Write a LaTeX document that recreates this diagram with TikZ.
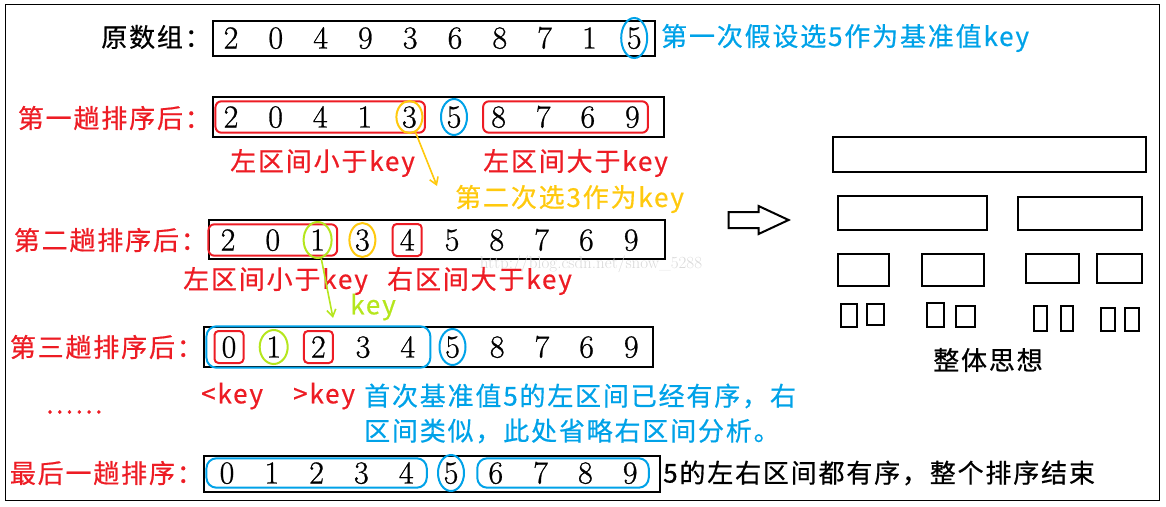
\documentclass[tikz,border=0pt]{standalone}
\usepackage{fontspec}
\usetikzlibrary{
  positioning,
  arrows.meta,
  fit,
  shapes.geometric,
  shapes.arrows
}
\newfontfamily\cjk[LetterSpace=7, FakeBold=0.6]{Noto Sans CJK SC}
\newfontfamily\digitfont[FakeBold=0.8]{Latin Modern Roman}
\definecolor{pred}{HTML}{ED1C24}
\definecolor{pblue}{HTML}{00A2E8}
\definecolor{pgold}{HTML}{FFC90E}
\definecolor{plime}{HTML}{B5E61D}

\begin{document}
\begin{tikzpicture}[
  x=1pt, y=-1pt,
  num/.style={font=\digitfont\fontsize{32}{32}\selectfont, inner sep=0pt,
              text height=21pt, text depth=0pt},
  numbox/.style={draw, line width=2.5pt},
  txt/.style={font=\cjk\fontsize{26}{30}\selectfont, inner sep=0pt},
  lbl/.style={txt, anchor=east},
  note/.style={txt, anchor=west},
  grp/.style={draw, line width=2pt, rounded corners=6pt, inner xsep=8pt, inner ysep=5pt},
  ring/.style={draw, ellipse, line width=2pt, inner sep=0pt,
               minimum width=26pt, minimum height=36pt},
  sq/.style={draw=pred, line width=2pt, rounded corners=4pt, inner sep=0pt,
             minimum width=29pt, minimum height=32pt},
  part/.style={draw, line width=2.5pt}
]
  \useasboundingbox (0,0) rectangle (1166,506);
  \draw[line width=0.8pt] (5,4) rectangle (1159,500);

  % Original array
  \node[lbl] (lab1) at (211,37) {原数组：};
  \draw[numbox] (213,21) rectangle (655,56);
  \foreach \d [count=\i] in {2,0,4,9,3,6,8,7,1,5}
    \node[num] (a\i) at ({231+44.8*(\i-1)},38) {\d};
  \node[ring, draw=pblue, minimum height=40pt] (k1) at (a10) {};
  \node[note, pblue] (note1) at (661,38) {第一次假设选5作为基准值key};

  % First pass
  \node[lbl, pred] (lab2) at (211,118) {第一趟排序后：};
  \draw[numbox] (213,97) rectangle (664,137);
  \foreach \d [count=\i] in {2,0,4,1,3,5,8,7,6,9}
    \node[num] (b\i) at ({231+44.6*(\i-1)},117) {\d};
  \node[grp, draw=pred, fit=(b1)(b5)] (low2) {};
  \node[grp, draw=pred, fit=(b7)(b10)] (high2) {};
  \node[ring, draw=pgold, minimum height=32pt] (k2) at (b5) {};
  \node[ring, draw=pblue] (p2) at (b6) {};
  \node[note, pred] (less2) at (230,163) {左区间小于key};
  \node[note, pred] (more2) at (483,163) {左区间大于key};
  \node[note, pgold] (pick2) at (455,199) {第二次选3作为key};
  \coordinate (tip2) at (437,186);
  \draw[pgold, line width=1.6pt, -{Straight Barb[length=7pt, width=9pt]}] (k2) -- (tip2);

  % Second pass
  \node[lbl, pred] (lab3) at (207,240) {第二趟排序后：};
  \draw[numbox] (209,220) rectangle (665,259);
  \foreach \d [count=\i] in {2,0,1,3,4,5,8,7,6,9}
    \node[num] (c\i) at ({228+44.8*(\i-1)},240) {\d};
  \node[grp, draw=pred, fit=(c1)(c3), inner xsep=12pt] (low3) {};
  \node[ring, draw=plime, minimum width=28pt] (k3) at (c3) {};
  \node[ring, draw=pgold, minimum height=34pt] (p3) at (c4) {};
  \node[sq] (hi3) at (c5) {};
  \node[font=\rmfamily\fontsize{17}{17}\selectfont, gray!30, anchor=north] (mark) at (591,252)
    {http://blog.csdn.net/snow\_5288};
  \node[note, pred] (less3) at (183,281) {左区间小于key};
  \node[note, pred] (more3) at (387,281) {右区间大于key};
  \node[note, plime] (key3) at (350,307) {key};
  \coordinate (tip3) at (333,318);
  \draw[plime, line width=1.6pt, -{Straight Barb[length=7pt, width=9pt]}] (k3) -- (tip3);

  % Third pass
  \node[lbl, pred] (lab4) at (203,347) {第三趟排序后：};
  \draw[numbox] (204,327) rectangle (653,367);
  \foreach \d [count=\i] in {0,1,2,3,4,5,8,7,6,9}
    \node[num] (d\i) at ({229+44.7*(\i-1)},347) {\d};
  \node[grp, draw=pblue, fit=(d1)(d5), inner xsep=15pt, inner ysep=10pt,
        rounded corners=10pt] (low4) {};
  \node[sq] (s1) at (d1) {};
  \node[ring, draw=plime, minimum width=28pt, minimum height=34pt] (k4) at (d2) {};
  \node[sq] (s3) at (d3) {};
  \node[ring, draw=pblue] (p4) at (d6) {};
  \node[note, pred] (lt4) at (201,396) {<key};
  \node[note, pred] (gt4) at (293,396) {>key};
  \node[note, pblue] (rem1) at (364,396) {首次基准值5的左区间已经有序，右};
  \node[note, pblue] (rem2) at (364,431) {区间类似，此处省略右区间分析。};
  \node[txt, pred] (dots) at (74,412) {……};

  % Last pass
  \node[lbl, pred] (lab5) at (203,473) {最后一趟排序：};
  \draw[numbox] (204,456) rectangle (660,492);
  \foreach \d [count=\i] in {0,1,2,3,4,5,6,7,8,9}
    \node[num] (e\i) at ({227+44.8*(\i-1)},473) {\d};
  \node[grp, draw=pblue, fit=(e1)(e5), inner xsep=13pt, inner ysep=4pt,
        rounded corners=10pt] (low5) {};
  \node[ring, draw=pblue] (p5) at (e6) {};
  \node[grp, draw=pblue, fit=(e7)(e10), inner xsep=11pt, inner ysep=4pt,
        rounded corners=10pt] (high5) {};
  \node[note] (done) at (663,473) {5的左右区间都有序，整个排序结束};

  % Overall idea
  \node[single arrow, draw, line width=2pt, inner sep=7pt, minimum height=60pt,
        single arrow head extend=6pt, single arrow tip angle=50] (go) at (750,220) {};
  \foreach \x/\y/\X/\Y in {833/137/1146/172,
      838/196/987/230, 1018/197/1142/230,
      838/254/889/286, 922/254/984/286, 1026/254/1079/283, 1097/254/1142/283,
      841/304/857/327, 867/304/884/325, 927/303/944/327, 956/306/975/327,
      1034/306/1047/331, 1061/306/1073/331, 1101/308/1115/331, 1125/308/1139/331}
    \draw[part] (\x,\y) rectangle (\X,\Y);
  \node[txt] (whole) at (988,360) {整体思想};
\end{tikzpicture}
\end{document}
